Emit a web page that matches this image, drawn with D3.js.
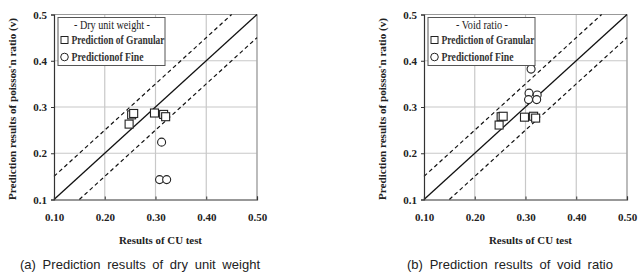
<!DOCTYPE html>
<html><head><meta charset="utf-8">
<script src="https://cdn.jsdelivr.net/npm/d3@7"></script>
<style>body{margin:0;background:#fff}svg{display:block}</style>
</head><body>
<svg id="c" width="643" height="278"></svg>
<script>
const xTicks = [0.10, 0.20, 0.30, 0.40, 0.50];
const yTicks = [0.1, 0.2, 0.3, 0.4, 0.5];
const legendTitles = ["- Dry unit weight -", "- Void ratio -"];
const seriesNames = ["Prediction of Granular", "Predictionof Fine"];
const captions = ["(a) Prediction results of dry unit weight", "(b) Prediction results of void ratio"];
const xTitle = "Results of CU test";
const yTitle = "Prediction results of poissos'n ratio (v)";
// panel a
const aGranX = [0.248, 0.253, 0.257, 0.298, 0.316, 0.320];
const aGranY = [0.263, 0.283, 0.286, 0.287, 0.284, 0.279];
const aFineX = [0.312, 0.308, 0.322];
const aFineY = [0.224, 0.143, 0.143];
// panel b
const bGranX = [0.248, 0.252, 0.256, 0.298, 0.316, 0.320];
const bGranY = [0.261, 0.279, 0.280, 0.278, 0.280, 0.276];
const bFineX = [0.311, 0.307, 0.306, 0.323, 0.322];
const bFineY = [0.382, 0.330, 0.316, 0.326, 0.316];
// reference lines (offset from 1:1)
const refOffsets = [0, 0.05, -0.05];

const svg = d3.select("#c");
const panels = [
  {x0: 54, gx: aGranX, gy: aGranY, fx: aFineX, fy: aFineY, legTitleW: 76, capX: 140, capW: 240},
  {x0: 424, gx: bGranX, gy: bGranY, fx: bFineX, fy: bFineY, legTitleW: 52, capX: 510, capW: 206}
];
const W = 203, pTop = 14.5, pBot = 199.5;
const serif = "'Liberation Serif','DejaVu Serif',serif";

panels.forEach((p, i) => {
  const g = svg.append("g");
  const x = d3.scaleLinear().domain([0.1, 0.5]).range([p.x0, p.x0 + W]);
  const y = d3.scaleLinear().domain([0.1, 0.5]).range([pBot, pTop]);
  // grid
  g.selectAll(".vg").data(xTicks.slice(1)).join("line")
    .attr("x1", d => x(d)).attr("x2", d => x(d)).attr("y1", pTop).attr("y2", pBot)
    .attr("stroke", "#c8c8c8").attr("stroke-width", 1.2);
  g.selectAll(".hg").data(yTicks.slice(1)).join("line")
    .attr("x1", x(0.1)).attr("x2", x(0.5)).attr("y1", d => y(d)).attr("y2", d => y(d))
    .attr("stroke", "#c8c8c8").attr("stroke-width", 1.2);
  // border top/right
  g.append("line").attr("x1", x(0.1)).attr("x2", x(0.5)).attr("y1", pTop).attr("y2", pTop).attr("stroke", "#999");
  g.append("line").attr("x1", x(0.5)).attr("x2", x(0.5)).attr("y1", pTop).attr("y2", pBot).attr("stroke", "#999");
  // reference lines
  refOffsets.forEach(o => {
    const xs = Math.max(0.1, 0.1 - o), xe = Math.min(0.5, 0.5 - o);
    g.append("line")
      .attr("x1", x(xs)).attr("y1", y(xs + o)).attr("x2", x(xe)).attr("y2", y(xe + o))
      .attr("stroke", "#111").attr("stroke-width", o === 0 ? 1.3 : 1.2)
      .attr("stroke-dasharray", o === 0 ? null : "4,3");
  });
  // axes
  const ax = g.append("g").attr("transform", `translate(0,${pBot})`)
    .call(d3.axisBottom(x).tickValues(xTicks).tickFormat(d3.format(".2f")).tickSize(-3).tickPadding(14));
  const ay = g.append("g").attr("transform", `translate(${p.x0},0)`)
    .call(d3.axisLeft(y).tickValues(yTicks).tickFormat(d3.format(".1f")).tickSize(3).tickPadding(4));
  [ax, ay].forEach(a => {
    a.select(".domain").attr("stroke", "#333").attr("stroke-width", 1.2);
    a.selectAll(".tick line").attr("stroke", "#333");
    a.selectAll("text").attr("font-family", serif).attr("font-weight", "bold").attr("font-size", 11).attr("fill", "#222");
  });
  // markers
  const sq = 8;
  g.selectAll(".sq").data(p.gx.map((v, k) => [v, p.gy[k]])).join("rect")
    .attr("x", d => x(d[0]) - sq / 2).attr("y", d => y(d[1]) - sq / 2)
    .attr("width", sq).attr("height", sq)
    .attr("fill", "#fff").attr("stroke", "#222").attr("stroke-width", 1.1);
  g.selectAll(".ci").data(p.fx.map((v, k) => [v, p.fy[k]])).join("circle")
    .attr("cx", d => x(d[0])).attr("cy", d => y(d[1])).attr("r", 4)
    .attr("fill", "#fff").attr("stroke", "#222").attr("stroke-width", 1.1);
  // legend
  const lx = p.x0 + 4, ly = 17.5;
  const lg = g.append("g");
  lg.append("rect").attr("x", lx).attr("y", ly).attr("width", 107).attr("height", 48)
    .attr("fill", "#fff").attr("stroke", "#555").attr("stroke-width", 1);
  lg.append("text").attr("x", lx + 54).attr("y", ly + 11.5).attr("text-anchor", "middle")
    .attr("font-family", serif).attr("font-size", 12).attr("fill", "#222")
    .attr("textLength", p.legTitleW).attr("lengthAdjust", "spacingAndGlyphs").text(legendTitles[i]);
  lg.append("rect").attr("x", lx + 3).attr("y", ly + 19).attr("width", 7).attr("height", 7)
    .attr("fill", "#fff").attr("stroke", "#222");
  lg.append("circle").attr("cx", lx + 6.5).attr("cy", ly + 39.5).attr("r", 3.8)
    .attr("fill", "#fff").attr("stroke", "#222");
  const legW = [93, 72];
  seriesNames.forEach((s, k) => {
    lg.append("text").attr("x", lx + 13.5).attr("y", ly + 26.5 + k * 17)
      .attr("font-family", serif).attr("font-size", 12.5).attr("font-weight", "bold").attr("fill", "#333")
      .attr("textLength", legW[k]).attr("lengthAdjust", "spacingAndGlyphs").text(s);
  });
  // titles
  g.append("text").attr("x", p.x0 + W / 2 + 5).attr("y", 243.5).attr("text-anchor", "middle")
    .attr("font-family", serif).attr("font-weight", "bold").attr("font-size", 10.5).attr("fill", "#222")
    .attr("textLength", 83).attr("lengthAdjust", "spacingAndGlyphs").text(xTitle);
  g.append("text").attr("transform", `translate(${p.x0 - 38},109) rotate(-90)`)
    .attr("text-anchor", "middle").attr("font-family", serif).attr("font-weight", "bold")
    .attr("font-size", 11).attr("fill", "#222")
    .attr("textLength", 182).attr("lengthAdjust", "spacingAndGlyphs").text(yTitle);
  g.append("text").attr("x", p.capX).attr("y", 268.5).attr("text-anchor", "middle")
    .attr("font-family", "'Liberation Sans',Arial,sans-serif").attr("font-size", 13).attr("fill", "#222")
    .attr("word-spacing", 3)
    .attr("textLength", p.capW).attr("lengthAdjust", "spacing").text(captions[i]);
});
</script>
</body></html>
